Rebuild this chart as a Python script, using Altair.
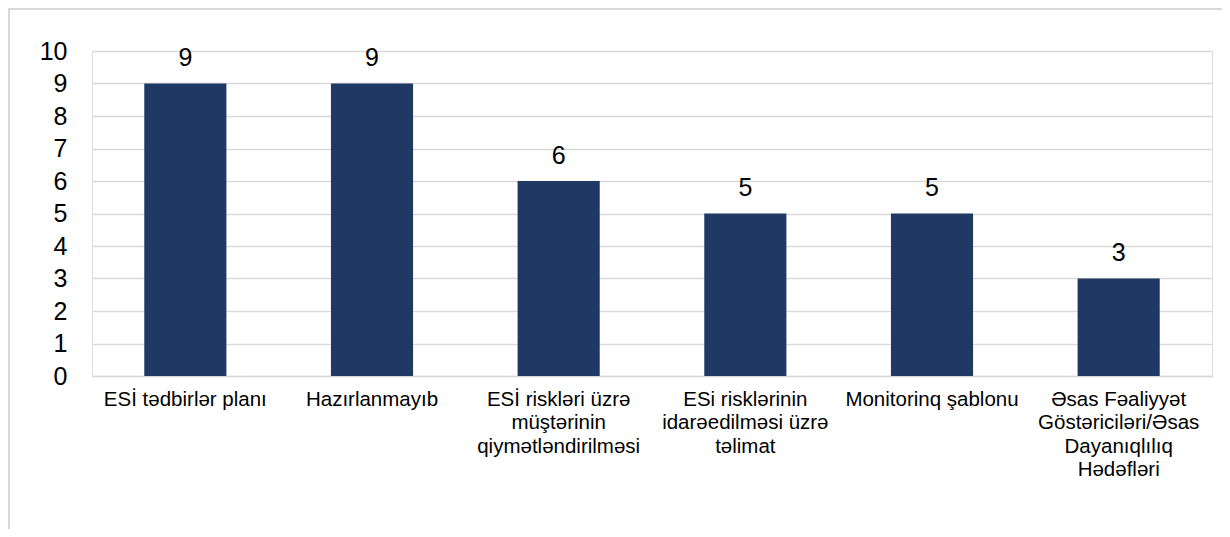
import altair as alt
import pandas as pd

categories = [
    "ESİ tədbirlər planı",
    "Hazırlanmayıb",
    "ESİ riskləri üzrə|müştərinin|qiymətləndirilməsi",
    "ESi risklərinin|idarəedilməsi üzrə|təlimat",
    "Monitorinq şablonu",
    "Əsas Fəaliyyət|Göstəriciləri/Əsas|Dayanıqlılıq|Hədəfləri",
]
values = [9, 9, 6, 5, 5, 3]
y_ticks = list(range(0, 11))

df = pd.DataFrame({"cat": categories, "val": values})

W, H = 1120, 325
FONT = "Liberation Sans"

x = alt.X("cat:N", sort=categories, title=None,
          scale=alt.Scale(paddingInner=0.56, paddingOuter=0.28),
          axis=alt.Axis(labelAngle=0, labelExpr="split(datum.label, '|')",
                        labelFontSize=20.5, labelColor="#000000", labelFont=FONT,
                        labelPadding=13, labelLineHeight=23.5, ticks=False,
                        domain=True, domainColor="#d9d9d9", domainWidth=1.5,
                        labelLimit=400, labelOverlap=False))
y = alt.Y("val:Q", title=None,
          scale=alt.Scale(domain=[0, 10]),
          axis=alt.Axis(values=y_ticks, labelFontSize=25,
                        labelColor="#000000", labelFont=FONT, labelPadding=25,
                        labelOverlap=False, labelBaseline="middle",
                        ticks=False, domain=False, grid=True,
                        gridColor="#d9d9d9", gridWidth=1.5))

bars = alt.Chart(df).mark_bar(color="#203864").encode(x=x, y=y)
labels = alt.Chart(df).mark_text(dy=-25.5, fontSize=25, font=FONT, color="#000000",
                                 baseline="middle").encode(
    x=x, y=y, text="val:Q")

border = alt.Chart(pd.DataFrame({"a": [0]})).mark_rect(
    fill=None, stroke="#d9d9d9", strokeWidth=2).encode(
    x=alt.value(-83), x2=alt.value(1300), y=alt.value(-42), y2=alt.value(700))

chart = alt.layer(border, bars, labels).properties(
    width=W, height=H,
    autosize=alt.AutoSizeParams(type="none"),
    padding={"left": 84, "top": 43, "right": 10, "bottom": 153},
).configure_view(stroke=None).configure(background="#ffffff")

chart.save("out.html", embed_options={"renderer": "svg", "actions": False})
